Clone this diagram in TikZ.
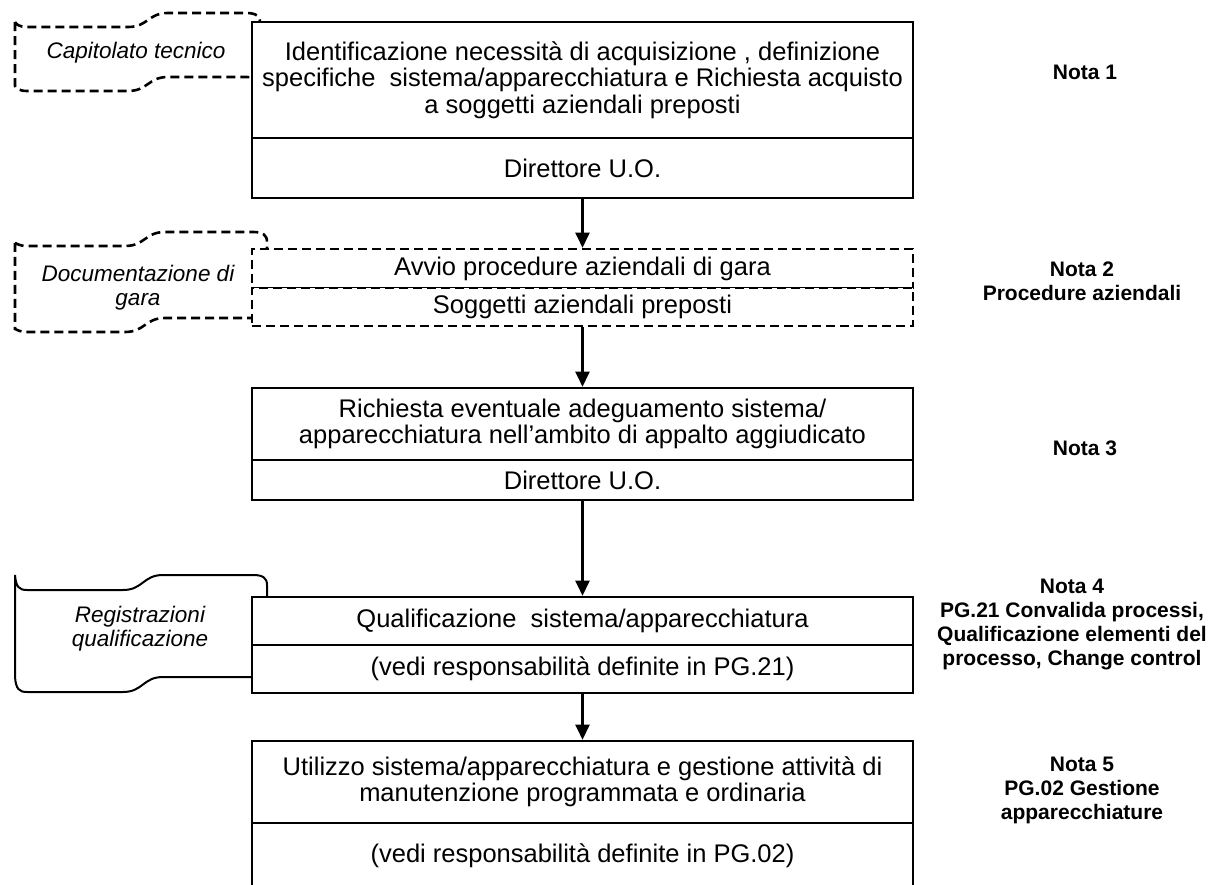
\documentclass[tikz,border=0pt]{standalone}
\usepackage{fontspec}
\setmainfont{Liberation Sans}
\usetikzlibrary{arrows.meta}

% Tape-like document symbol: x0, x1, xm (middle of the wave), ytop, height, left corner drop, wave depth
\newcommand\tapeshape[8]{%
  \draw[#1] ({#2},{#5+#7})
    .. controls ({#2+1},{#5+#8-3}) and ({#2+4},{#5+#8}) .. ({#2+12},{#5+#8})
    -- ({#4-20},{#5+#8})
    .. controls ({#4},{#5+#8}) and ({#4},{#5}) .. ({#4+20},{#5})
    -- ({#3-14},{#5})
    .. controls ({#3-4},{#5}) and ({#3},{#5+3}) .. ({#3},{#5+10})
    -- ({#3},{#5+#6+10})
    .. controls ({#3},{#5+#6+3}) and ({#3-4},{#5+#6}) .. ({#3-14},{#5+#6})
    -- ({#4+20},{#5+#6})
    .. controls ({#4},{#5+#6}) and ({#4},{#5+#6+#8}) .. ({#4-20},{#5+#6+#8})
    -- ({#2+12},{#5+#6+#8})
    .. controls ({#2+4},{#5+#6+#8}) and ({#2+1},{#5+#6+#8-3}) .. ({#2},{#5+#6+#7})
    -- cycle;}

\tikzset{
  boxpart/.style={draw, line width=2.6pt, fill=white, minimum width=661pt,
    inner sep=0pt, align=center, font=\fontsize{25.5}{26.5}\selectfont},
  dashpart/.style={boxpart, dash pattern=on 9pt off 5pt},
  doctext/.style={align=center, inner sep=0pt, font=\fontsize{22.5}{24}\selectfont\itshape},
  notetext/.style={align=center, inner sep=0pt, font=\fontsize{21}{24}\selectfont\bfseries},
  flow/.style={line width=2.4pt, -{Triangle[width=14pt,length=15pt]}},
  docdash/.style={line width=2.6pt, dash pattern=on 9pt off 5pt, fill=white},
  docsolid/.style={line width=2pt, fill=white}
}

\begin{document}
\begin{tikzpicture}[x=1pt,y=-1pt]
\useasboundingbox (0,0) rectangle (1213,885);
\fill[white] (0,0) rectangle (1213,885);
\begin{scope}
\clip (0,0) rectangle (1213,885);

% document symbols on the left
\tapeshape{docdash}{15}{260}{148}{13}{64}{9}{14}
\tapeshape{docdash}{15}{267}{145}{232}{86}{11}{14}
\tapeshape{docsolid}{15}{267}{143}{575}{102}{0}{15}

\node[doctext] (d1) at (136,53) {Capitolato tecnico};
\node[doctext] (d2) at (138,288) {Documentazione di\\gara};
\node[doctext] (d3) at (140,629) {Registrazioni\\qualificazione};

% process boxes
\node[boxpart, minimum height=116pt] (b1t) at (582.5,80)
  {Identificazione necessità di acquisizione , definizione\\
   specifiche\ \ sistema/apparecchiatura e Richiesta acquisto\\
   a soggetti aziendali preposti};
\node[boxpart, minimum height=60pt] (b1b) at (582.5,168) {Direttore U.O.};

\node[dashpart, minimum height=39pt] (b2t) at (582.5,268.5) {Avvio procedure aziendali di gara};
\node[dashpart, minimum height=38pt] (b2b) at (582.5,307) {Soggetti aziendali preposti};

\node[boxpart, minimum height=72pt] (b3t) at (582.5,424)
  {Richiesta eventuale adeguamento sistema/\\
   apparecchiatura nell’ambito di appalto aggiudicato};
\node[boxpart, minimum height=40pt] (b3b) at (582.5,480) {Direttore U.O.};

\node[boxpart, minimum height=48pt] (b4t) at (582.5,621) {Qualificazione\ \ sistema/apparecchiatura};
\node[boxpart, minimum height=48pt] (b4b) at (582.5,669) {(vedi responsabilità definite in PG.21)};

\node[boxpart, minimum height=82pt] (b5t) at (582.5,782)
  {Utilizzo sistema/apparecchiatura e gestione attività di\\
   manutenzione programmata e ordinaria};
\node[boxpart, minimum height=66pt] (b5b) at (582.5,856) {(vedi responsabilità definite in PG.02)};

% connectors
\draw[flow] (b1b.south) -- (b2t.north);
\draw[flow] (b2b.south) -- (b3t.north);
\draw[flow] (b3b.south) -- (b4t.north);
\draw[flow] (b4b.south) -- (b5t.north);

% notes on the right
\node[notetext] (n1) at (1085,72) {Nota 1};
\node[notetext] (n2) at (1082,281) {Nota 2\\Procedure aziendali};
\node[notetext] (n3) at (1085,448) {Nota 3};
\node[notetext] (n4) at (1072,624) {Nota 4\\PG.21 Convalida processi,\\Qualificazione elementi del\\processo, Change control};
\node[notetext] (n5) at (1082,790) {Nota 5\\PG.02 Gestione\\apparecchiature};
\end{scope}
\end{tikzpicture}
\end{document}
